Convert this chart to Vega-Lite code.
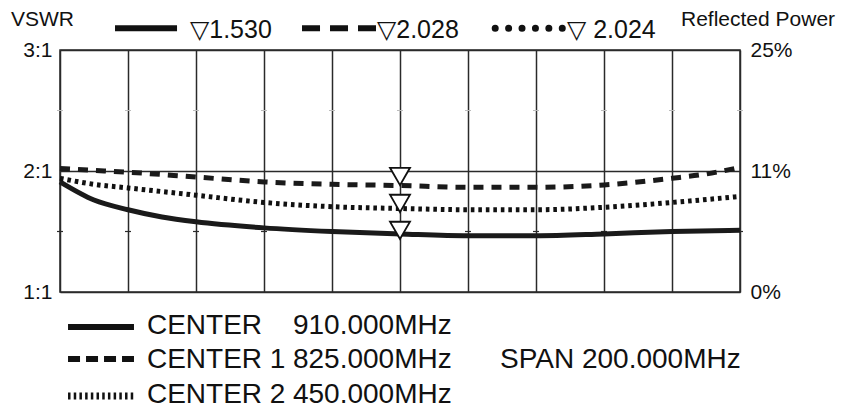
{
  "$schema": "https://vega.github.io/schema/vega-lite/v6.json",
  "width": 680,
  "height": 242,
  "autosize": {"type": "none"},
  "padding": {"left": 60, "top": 50, "right": 108, "bottom": 116},
  "background": "white",
  "config": {
    "view": {"stroke": "#2a2a2a", "strokeWidth": 1.5},
    "font": "Liberation Sans",
    "axis": {"labelFont": "Liberation Sans", "labelColor": "#111111", "gridColor": "#2a2a2a", "gridWidth": 1.5, "gridOpacity": 1}
  },
  "datasets": {
    "curves": [
      {"series": "solid", "u": 0, "v": 1.91},
      {"series": "solid", "u": 0.5, "v": 1.76},
      {"series": "solid", "u": 1, "v": 1.68},
      {"series": "solid", "u": 1.5, "v": 1.62},
      {"series": "solid", "u": 2, "v": 1.58},
      {"series": "solid", "u": 3, "v": 1.53},
      {"series": "solid", "u": 4, "v": 1.5},
      {"series": "solid", "u": 5, "v": 1.48},
      {"series": "solid", "u": 6, "v": 1.465},
      {"series": "solid", "u": 7, "v": 1.465},
      {"series": "solid", "u": 8, "v": 1.48},
      {"series": "solid", "u": 9, "v": 1.5},
      {"series": "solid", "u": 10, "v": 1.51},
      {"series": "dashed", "u": 0, "v": 2.02},
      {"series": "dashed", "u": 0.5, "v": 2.005},
      {"series": "dashed", "u": 1, "v": 1.99},
      {"series": "dashed", "u": 2, "v": 1.95},
      {"series": "dashed", "u": 3, "v": 1.91},
      {"series": "dashed", "u": 4, "v": 1.89},
      {"series": "dashed", "u": 5, "v": 1.88},
      {"series": "dashed", "u": 6, "v": 1.865},
      {"series": "dashed", "u": 7, "v": 1.865},
      {"series": "dashed", "u": 8, "v": 1.885},
      {"series": "dashed", "u": 9, "v": 1.94},
      {"series": "dashed", "u": 9.5, "v": 1.975},
      {"series": "dashed", "u": 10, "v": 2.03},
      {"series": "dotted", "u": 0, "v": 1.94},
      {"series": "dotted", "u": 0.5, "v": 1.89},
      {"series": "dotted", "u": 1, "v": 1.86},
      {"series": "dotted", "u": 2, "v": 1.8},
      {"series": "dotted", "u": 3, "v": 1.74},
      {"series": "dotted", "u": 4, "v": 1.705},
      {"series": "dotted", "u": 5, "v": 1.69},
      {"series": "dotted", "u": 6, "v": 1.68},
      {"series": "dotted", "u": 7, "v": 1.68},
      {"series": "dotted", "u": 8, "v": 1.7},
      {"series": "dotted", "u": 9, "v": 1.74},
      {"series": "dotted", "u": 10, "v": 1.79}
    ],
    "markers": [
      {"series": "dashed", "u": 5, "v": 1.884},
      {"series": "dotted", "u": 5, "v": 1.661},
      {"series": "solid", "u": 5, "v": 1.438}
    ],
    "minor": [
      {"u": 0, "v": 1.5}, {"u": 1, "v": 1.5}, {"u": 2, "v": 1.5}, {"u": 3, "v": 1.5}, {"u": 4, "v": 1.5}, {"u": 5, "v": 1.5},
      {"u": 6, "v": 1.5}, {"u": 7, "v": 1.5}, {"u": 8, "v": 1.5}, {"u": 9, "v": 1.5}, {"u": 10, "v": 1.5},
      {"u": 0, "v": 2.5}, {"u": 1, "v": 2.5}, {"u": 2, "v": 2.5}, {"u": 3, "v": 2.5}, {"u": 4, "v": 2.5}, {"u": 5, "v": 2.5},
      {"u": 6, "v": 2.5}, {"u": 7, "v": 2.5}, {"u": 8, "v": 2.5}, {"u": 9, "v": 2.5}, {"u": 10, "v": 2.5}
    ],
    "keys": [
      {"seg": "top_solid", "u": 0.809, "v": 3.18},
      {"seg": "top_solid", "u": 1.721, "v": 3.18},
      {"seg": "top_dashed", "u": 3.559, "v": 3.18},
      {"seg": "top_dashed", "u": 4.647, "v": 3.18},
      {"seg": "top_dotted", "u": 6.40, "v": 3.18},
      {"seg": "top_dotted", "u": 7.39, "v": 3.18},
      {"seg": "bot_solid", "u": 0.118, "v": 0.711},
      {"seg": "bot_solid", "u": 1.088, "v": 0.711},
      {"seg": "bot_dashed", "u": 0.118, "v": 0.446},
      {"seg": "bot_dashed", "u": 1.088, "v": 0.446},
      {"seg": "bot_dotted", "u": 0.118, "v": 0.14},
      {"seg": "bot_dotted", "u": 1.088, "v": 0.14}
    ],
    "texts": [
      {"kind": "head", "label": "VSWR", "u": -0.72, "v": 3.248},
      {"kind": "head", "label": "Reflected Power", "u": 9.132, "v": 3.244},
      {"kind": "value", "label": "▽1.530", "u": 1.912, "v": 3.165},
      {"kind": "value", "label": "▽2.028", "u": 4.662, "v": 3.165},
      {"kind": "value", "label": "▽ 2.024", "u": 7.456, "v": 3.165},
      {"kind": "foot", "label": "CENTER", "u": 1.279, "v": 0.719},
      {"kind": "foot", "label": "CENTER 1", "u": 1.279, "v": 0.438},
      {"kind": "foot", "label": "CENTER 2", "u": 1.279, "v": 0.149},
      {"kind": "foot", "label": "910.000MHz", "u": 3.426, "v": 0.719},
      {"kind": "foot", "label": "825.000MHz", "u": 3.426, "v": 0.438},
      {"kind": "foot", "label": "450.000MHz", "u": 3.426, "v": 0.149},
      {"kind": "foot", "label": "SPAN 200.000MHz", "u": 6.471, "v": 0.438}
    ]
  },
  "layer": [
    {
      "data": {"name": "minor"},
      "transform": [{"filter": "datum.v == 1.5"}],
      "mark": {"type": "tick", "orient": "horizontal", "size": 6, "thickness": 1.2, "color": "#2a2a2a", "opacity": 1},
      "encoding": {
        "x": {"field": "u", "type": "quantitative", "scale": {"domain": [0, 10], "nice": false, "zero": false},
              "axis": {"values": [0, 1, 2, 3, 4, 5, 6, 7, 8, 9, 10], "grid": true, "labels": false, "ticks": false, "domain": false, "title": null}},
        "y": {"field": "v", "type": "quantitative", "scale": {"domain": [1, 3], "nice": false, "zero": false},
              "axis": {"orient": "left", "values": [1, 2, 3], "grid": true, "ticks": false, "domain": false, "title": null,
                       "labelExpr": "datum.value == 3 ? '3:1' : datum.value == 2 ? '2:1' : '1:1'",
                       "labelFontSize": 21, "labelPadding": 8}}
      }
    },
    {
      "data": {"name": "minor"},
      "transform": [{"filter": "datum.v == 2.5"}],
      "mark": {"type": "tick", "orient": "horizontal", "size": 6, "thickness": 1, "color": "#bbbbbb", "opacity": 1},
      "encoding": {
        "x": {"field": "u", "type": "quantitative"},
        "y": {"field": "v", "type": "quantitative", "axis": null}
      }
    },
    {
      "data": {"name": "curves"},
      "transform": [{"filter": "datum.series == 'solid'"}],
      "mark": {"type": "line", "interpolate": "monotone", "stroke": "#1a1a1a", "strokeWidth": 5},
      "encoding": {
        "x": {"field": "u", "type": "quantitative"},
        "y": {"field": "v", "type": "quantitative", "axis": null}
      }
    },
    {
      "data": {"name": "curves"},
      "transform": [{"filter": "datum.series == 'dashed'"}],
      "mark": {"type": "line", "interpolate": "monotone", "stroke": "#1a1a1a", "strokeWidth": 5, "strokeDash": [10, 8], "strokeCap": "butt"},
      "encoding": {
        "x": {"field": "u", "type": "quantitative"},
        "y": {"field": "v", "type": "quantitative", "axis": null}
      }
    },
    {
      "data": {"name": "curves"},
      "transform": [{"filter": "datum.series == 'dotted'"}],
      "mark": {"type": "line", "interpolate": "monotone", "stroke": "#111111", "strokeWidth": 5, "strokeDash": [3.6, 3.9], "strokeCap": "butt"},
      "encoding": {
        "x": {"field": "u", "type": "quantitative"},
        "y": {"field": "v", "type": "quantitative", "axis": null}
      }
    },
    {
      "data": {"name": "markers"},
      "mark": {"type": "point", "shape": "triangle-down", "size": 400, "filled": true, "fill": "white", "stroke": "#111111", "strokeWidth": 1.8, "opacity": 1, "yOffset": -8.6},
      "encoding": {
        "x": {"field": "u", "type": "quantitative"},
        "y": {"field": "v", "type": "quantitative",
              "axis": {"orient": "right", "values": [1, 2, 3], "grid": false, "ticks": false, "domain": false, "title": null,
                       "labelExpr": "datum.value == 3 ? '25%' : datum.value == 2 ? '11%' : '0%'",
                       "labelFontSize": 21, "labelPadding": 10}}
      }
    },
    {
      "data": {"name": "keys"},
      "transform": [{"filter": "datum.seg == 'top_solid' || datum.seg == 'bot_solid'"}],
      "mark": {"type": "line", "stroke": "#111111", "strokeWidth": 6, "strokeCap": "butt"},
      "encoding": {
        "x": {"field": "u", "type": "quantitative"},
        "y": {"field": "v", "type": "quantitative", "axis": null},
        "detail": {"field": "seg"}
      }
    },
    {
      "data": {"name": "keys"},
      "transform": [{"filter": "datum.seg == 'top_dashed'"}],
      "mark": {"type": "line", "stroke": "#111111", "strokeWidth": 6, "strokeDash": [18, 10], "strokeCap": "butt"},
      "encoding": {
        "x": {"field": "u", "type": "quantitative"},
        "y": {"field": "v", "type": "quantitative", "axis": null}
      }
    },
    {
      "data": {"name": "keys"},
      "transform": [{"filter": "datum.seg == 'top_dotted'"}],
      "mark": {"type": "line", "stroke": "#111111", "strokeWidth": 7, "strokeDash": [0.01, 13.4], "strokeCap": "round"},
      "encoding": {
        "x": {"field": "u", "type": "quantitative"},
        "y": {"field": "v", "type": "quantitative", "axis": null}
      }
    },
    {
      "data": {"name": "keys"},
      "transform": [{"filter": "datum.seg == 'bot_dashed'"}],
      "mark": {"type": "line", "stroke": "#111111", "strokeWidth": 6, "strokeDash": [12, 6], "strokeCap": "butt"},
      "encoding": {
        "x": {"field": "u", "type": "quantitative"},
        "y": {"field": "v", "type": "quantitative", "axis": null}
      }
    },
    {
      "data": {"name": "keys"},
      "transform": [{"filter": "datum.seg == 'bot_dotted'"}],
      "mark": {"type": "line", "stroke": "#111111", "strokeWidth": 7, "strokeDash": [2.5, 3.2], "strokeCap": "butt"},
      "encoding": {
        "x": {"field": "u", "type": "quantitative"},
        "y": {"field": "v", "type": "quantitative", "axis": null}
      }
    },
    {
      "data": {"name": "texts"},
      "transform": [{"filter": "datum.kind == 'head'"}],
      "mark": {"type": "text", "align": "left", "baseline": "middle", "fontSize": 21, "font": "Liberation Sans", "color": "#111111"},
      "encoding": {
        "x": {"field": "u", "type": "quantitative"},
        "y": {"field": "v", "type": "quantitative", "axis": null},
        "text": {"field": "label"}
      }
    },
    {
      "data": {"name": "texts"},
      "transform": [{"filter": "datum.kind == 'value'"}],
      "mark": {"type": "text", "align": "left", "baseline": "middle", "fontSize": 25, "font": "Liberation Sans, DejaVu Sans", "color": "#111111"},
      "encoding": {
        "x": {"field": "u", "type": "quantitative"},
        "y": {"field": "v", "type": "quantitative", "axis": null},
        "text": {"field": "label"}
      }
    },
    {
      "data": {"name": "texts"},
      "transform": [{"filter": "datum.kind == 'foot'"}],
      "mark": {"type": "text", "align": "left", "baseline": "middle", "fontSize": 28, "font": "Liberation Sans", "color": "#111111"},
      "encoding": {
        "x": {"field": "u", "type": "quantitative"},
        "y": {"field": "v", "type": "quantitative", "axis": null},
        "text": {"field": "label"}
      }
    }
  ],
  "resolve": {"axis": {"y": "independent"}}
}
